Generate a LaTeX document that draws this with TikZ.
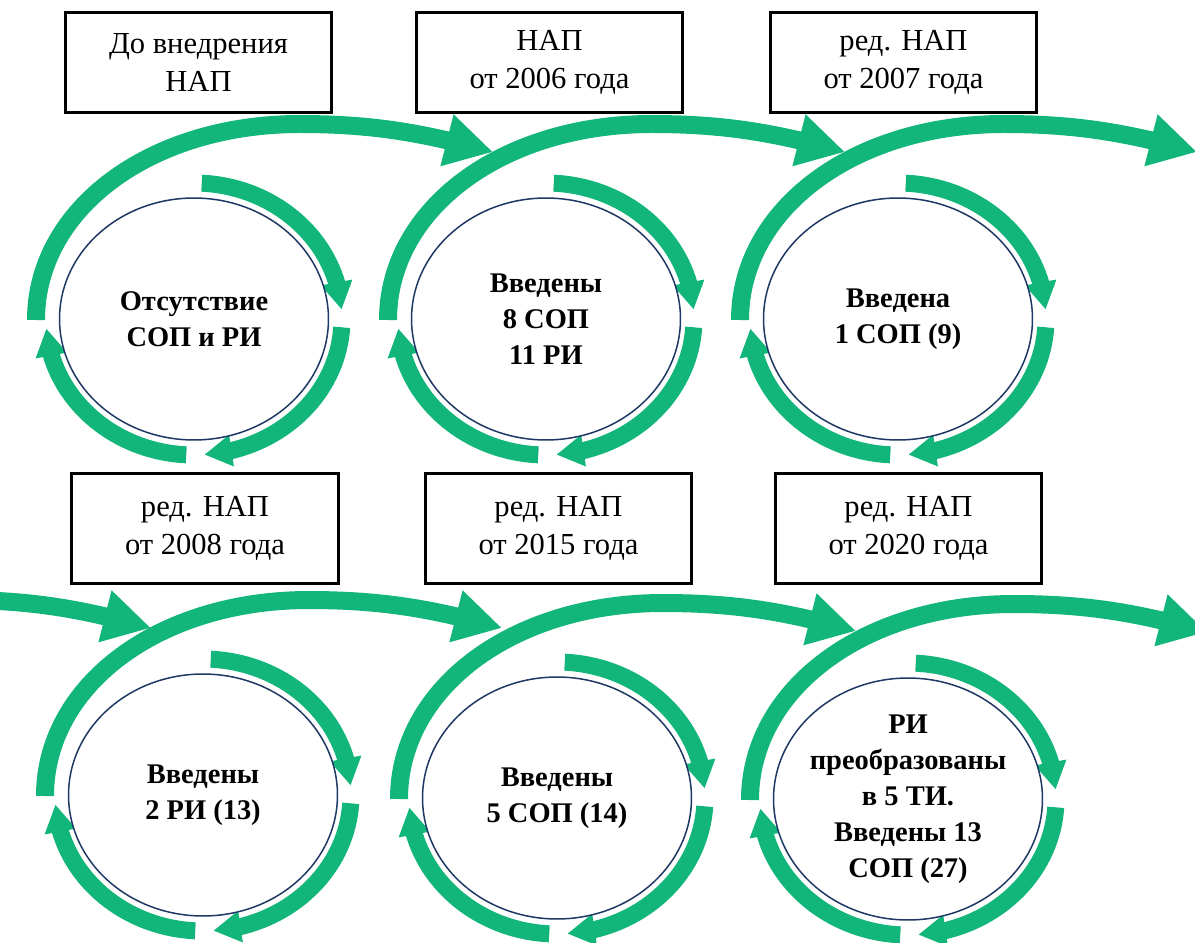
\documentclass[tikz,border=0pt]{standalone}
\usepackage{fontspec}
\setmainfont{Liberation Serif}
\usetikzlibrary{arrows.meta,bending,shapes.geometric}

\definecolor{arcgreen}{RGB}{18,182,122}
\definecolor{rimblue}{RGB}{31,56,100}

\begin{document}
\begin{tikzpicture}[x=0.02cm,y=0.02cm,
	stage/.style={draw,line width=0.06cm,minimum width=5.34cm,minimum height=2.02cm,inner sep=0pt,align=center,font=\fontsize{17.4}{21.6}\selectfont},
	cyc/.style={ellipse,draw=rimblue,line width=0.03cm,fill=white,minimum width=5.38cm,minimum height=4.84cm,inner sep=-0.25cm,align=center,font=\bfseries\fontsize{16.2}{20.5}\selectfont},
	ring/.style={arcgreen,line width=0.34cm,-{Triangle[width=0.6cm,length=0.55cm]}},
	leap/.style={arcgreen,line width=0.36cm,-{Triangle[width=1.0cm,length=0.95cm]}}]
	\clip (0,0) rectangle (1195,-942);
	% centres of the cycles (c0 only feeds the lower row)
	\coordinate (c0) at (-148,-795);
	\coordinate (c1) at (194,-319);
	\coordinate (c2) at (546,-319);
	\coordinate (c3) at (898,-319);
	\coordinate (c4) at (203,-795);
	\coordinate (c5) at (557,-798);
	\coordinate (c6) at (908,-799);
	% arcs round each circle
	\foreach \c in {c1,c2,c3,c4,c5,c6} {
		\draw[ring] (\c) ++(87:148 and 136) arc[start angle=87,end angle=4,x radius=148,y radius=136];
		\draw[ring] (\c) ++(-3.5:148 and 136) arc[start angle=-3.5,end angle=-86,x radius=148,y radius=136];
		\draw[ring] (\c) ++(-93:148 and 136) arc[start angle=-93,end angle=-176,x radius=148,y radius=136];
	}
	% long arrows to the next stage
	\foreach \c in {c0,c1,c2,c3,c4,c5,c6}
		\draw[leap] ([shift={(-158,-1)}]\c) .. controls ([shift={(-158,110)}]\c) and ([shift={(-44,195)}]\c) .. ([shift={(106,195)}]\c)
			.. controls ([shift={(186,195)}]\c) and ([shift={(236,184)}]\c) .. ([shift={(299,167)}]\c);
	% stages
	\node[stage] (s1) at (198.5,-62.5) {До внедрения\\НАП};
	\node[stage] (s2) at (549.5,-62.5) {НАП\\от 2006 года};
	\node[stage] (s3) at (903.5,-62.5) {ред. НАП\\от 2007 года};
	\node[stage,minimum height=2.22cm] (s4) at (205,-528.5) {ред. НАП\\от 2008 года};
	\node[stage,minimum height=2.22cm] (s5) at (558.5,-528.5) {ред. НАП\\от 2015 года};
	\node[stage,minimum height=2.22cm] (s6) at (908.5,-528.5) {ред. НАП\\от 2020 года};
	% results
	\node[cyc] (n1) at (c1) {Отсутствие\\СОП и РИ};
	\node[cyc] (n2) at (c2) {Введены\\8 СОП\\11 РИ};
	\node[cyc] (n3) at (c3) {Введена\\1 СОП (9)};
	\node[cyc] (n4) at (c4) {Введены\\2 РИ (13)};
	\node[cyc] (n5) at (c5) {Введены\\5 СОП (14)};
	\node[cyc] (n6) at (c6) {РИ\\преобразованы\\в 5 ТИ.\\Введены 13\\СОП (27)};
\end{tikzpicture}
\end{document}
